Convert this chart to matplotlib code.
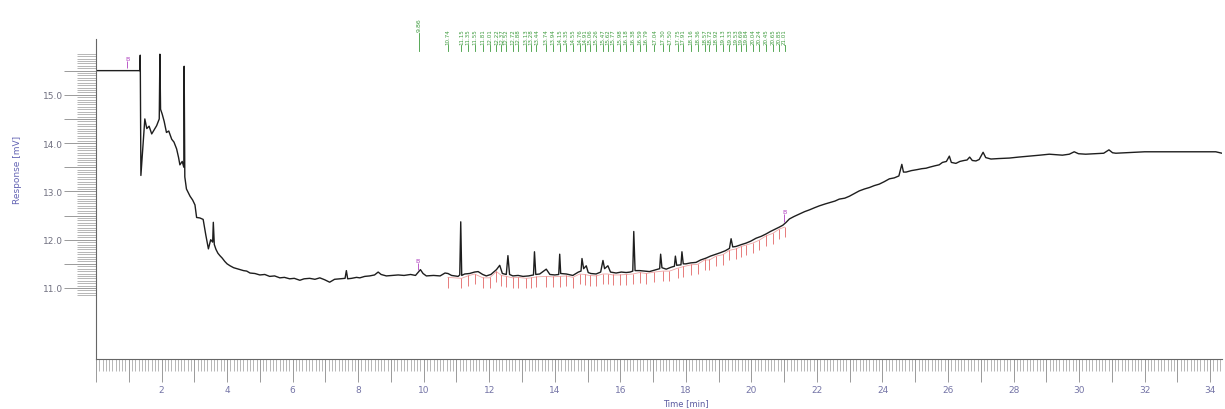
import matplotlib
matplotlib.use("Agg")
import matplotlib.pyplot as plt
import numpy as np

# chromatogram trace (time in min, response in mV)
time_min = [
    0.00, 1.34, 1.35, 1.37, 1.49, 1.55, 1.62, 1.70, 1.78, 1.85, 1.93, 1.95, 1.97,
    2.02, 2.08, 2.15, 2.22, 2.31, 2.38, 2.46, 2.52, 2.56, 2.63, 2.68, 2.69, 2.71,
    2.76, 2.87, 2.95, 3.02, 3.07, 3.17, 3.27, 3.35, 3.43, 3.50, 3.56, 3.58, 3.61,
    3.66, 3.72, 3.78, 3.85, 3.93, 4.00, 4.09, 4.20, 4.30, 4.39, 4.50, 4.60, 4.70,
    4.85, 5.00, 5.15, 5.30, 5.45, 5.61, 5.75, 5.91, 6.05, 6.22, 6.35, 6.52, 6.68,
    6.83, 6.98, 7.13, 7.28, 7.44, 7.60, 7.64, 7.68, 7.80, 7.95, 8.05, 8.20, 8.35,
    8.50, 8.61, 8.70, 8.86, 9.05, 9.22, 9.40, 9.60, 9.75, 9.90, 9.98, 10.08, 10.30,
    10.50, 10.65, 10.74, 10.85, 11.05, 11.10, 11.13, 11.16, 11.25, 11.40, 11.55,
    11.66, 11.80, 11.91, 12.05, 12.22, 12.32, 12.40, 12.52, 12.57, 12.62, 12.72,
    12.88, 13.03, 13.20, 13.35, 13.38, 13.42, 13.54, 13.74, 13.85, 14.00, 14.12,
    14.15, 14.18, 14.35, 14.55, 14.72, 14.80, 14.83, 14.88, 14.96, 15.02, 15.10,
    15.26, 15.40, 15.47, 15.52, 15.62, 15.70, 15.87, 16.03, 16.18, 16.30, 16.38,
    16.41, 16.45, 16.59, 16.75, 16.89, 17.05, 17.20, 17.23, 17.27, 17.40, 17.55,
    17.65, 17.68, 17.72, 17.85, 17.88, 17.92, 18.00, 18.15, 18.31, 18.45, 18.62,
    18.75, 18.92, 19.05, 19.20, 19.33, 19.38, 19.43, 19.53, 19.70, 19.84, 19.98,
    20.14, 20.30, 20.45, 20.58, 20.70, 20.85, 20.96, 21.06, 21.16, 21.30, 21.46,
    21.62, 21.78, 21.92, 22.07, 22.25, 22.40, 22.55, 22.68, 22.85, 22.99, 23.15,
    23.29, 23.45, 23.60, 23.75, 23.90, 24.05, 24.21, 24.36, 24.50, 24.59, 24.64,
    24.72, 24.88, 25.05, 25.20, 25.33, 25.43, 25.60, 25.73, 25.83, 25.95, 26.04,
    26.10, 26.24, 26.36, 26.49, 26.58, 26.66, 26.74, 26.85, 26.95, 27.07, 27.15,
    27.31, 27.55, 27.87, 28.15, 28.48, 28.80, 29.09, 29.30, 29.49, 29.70, 29.85,
    29.98, 30.20, 30.50, 30.75, 30.91, 31.02, 31.12, 31.40, 31.63, 32.00, 32.34,
    32.75, 33.15, 33.60, 34.17, 34.36,
]
response_mv = [
    15.50, 15.50, 15.82, 13.33, 14.50, 14.30, 14.35, 14.19, 14.28, 14.36, 14.50, 15.84, 14.70,
    14.60, 14.45, 14.22, 14.25, 14.08, 14.02, 13.88, 13.70, 13.55, 13.62, 13.50, 15.59, 13.30,
    13.05, 12.90, 12.82, 12.72, 12.46, 12.45, 12.42, 12.10, 11.81, 12.00, 11.95, 12.36, 11.90,
    11.80, 11.72, 11.67, 11.62, 11.55, 11.50, 11.46, 11.42, 11.40, 11.38, 11.36, 11.35, 11.31,
    11.30, 11.27, 11.28, 11.24, 11.25, 11.21, 11.22, 11.19, 11.20, 11.16, 11.19, 11.20, 11.18,
    11.21, 11.17, 11.12, 11.18, 11.19, 11.20, 11.36, 11.19, 11.20, 11.22, 11.21, 11.24, 11.25,
    11.27, 11.33, 11.28, 11.25, 11.26, 11.27, 11.26, 11.28, 11.26, 11.38, 11.30, 11.25, 11.26,
    11.25, 11.31, 11.30, 11.26, 11.24, 11.27, 12.37, 11.26, 11.29, 11.30, 11.33,
    11.34, 11.28, 11.25, 11.28, 11.38, 11.47, 11.30, 11.28, 11.67, 11.28, 11.25,
    11.26, 11.24, 11.25, 11.27, 11.75, 11.28, 11.29, 11.39, 11.28, 11.27, 11.28,
    11.70, 11.30, 11.29, 11.26, 11.33, 11.35, 11.61, 11.40, 11.46, 11.32, 11.30,
    11.29, 11.33, 11.57, 11.40, 11.46, 11.33, 11.31, 11.33, 11.32, 11.33, 11.35,
    12.17, 11.36, 11.36, 11.35, 11.34, 11.37, 11.40, 11.70, 11.42, 11.39, 11.43,
    11.45, 11.66, 11.47, 11.48, 11.75, 11.50, 11.50, 11.52, 11.53, 11.58, 11.62,
    11.66, 11.70, 11.73, 11.77, 11.82, 12.02, 11.85, 11.86, 11.90, 11.93, 11.97,
    12.03, 12.07, 12.12, 12.17, 12.21, 12.26, 12.30, 12.36, 12.43, 12.48, 12.53,
    12.58, 12.62, 12.66, 12.70, 12.74, 12.77, 12.80, 12.84, 12.86, 12.90, 12.96,
    13.01, 13.05, 13.08, 13.12, 13.15, 13.20, 13.26, 13.28, 13.32, 13.56, 13.40,
    13.40, 13.43, 13.45, 13.47, 13.48, 13.50, 13.53, 13.55, 13.60, 13.62, 13.73,
    13.60, 13.58, 13.62, 13.64, 13.65, 13.71, 13.64, 13.63, 13.66, 13.81, 13.70,
    13.67, 13.68, 13.69, 13.71, 13.73, 13.75, 13.77, 13.76, 13.75, 13.77, 13.82,
    13.78, 13.77, 13.78, 13.79, 13.86, 13.80, 13.79, 13.80, 13.81, 13.82, 13.82,
    13.82, 13.82, 13.82, 13.82, 13.79,
]

# integrated peaks (retention times, labelled in green on top)
first_peak = 9.86
peak_times = [
    10.74, 11.15, 11.35, 11.55, 11.81, 12.01, 12.22, 12.37, 12.52, 12.72, 12.88,
    13.13, 13.28, 13.44, 13.74, 13.94, 14.15, 14.35, 14.55, 14.76, 14.91, 15.06,
    15.26, 15.47, 15.62, 15.77, 15.98, 16.18, 16.38, 16.59, 16.79, 17.04, 17.30,
    17.50, 17.75, 17.91, 18.16, 18.36, 18.57, 18.72, 18.92, 19.13, 19.33, 19.53,
    19.69, 19.84, 20.04, 20.24, 20.45, 20.65, 20.85, 21.01,
]

# integration event markers
event_times = [0.95, 9.82, 21.00]

x_major = np.arange(0, 35, 1)
x_labels = [str(v) if v % 2 == 0 and v > 0 else "" for v in x_major]
y_major = np.arange(11.0, 15.51, 0.5)
y_labels = ["%.1f" % v if v % 1 == 0 else "" for v in y_major]

fig = plt.figure(figsize=(12.25, 4.10), dpi=100)
ax = fig.add_axes([96 / 1225, 50 / 410, 1 - 96 / 1225 - 3 / 1225, 320 / 410])

t = np.array(time_min)
r = np.array(response_mv)
ax.plot(t, r, color="#1e1e1e", lw=1.0)

# red baseline drops under integrated peaks (lowest trace value near each peak)
base = np.array([r[(t > pt - 0.12) & (t < pt + 0.12)].min() if np.any((t > pt - 0.12) & (t < pt + 0.12))
                 else np.interp(pt, t, r) for pt in peak_times])
ax.vlines(peak_times, base - 0.25, base - 0.03, color="#e05a5a", lw=0.7, alpha=0.8)
ax.plot(peak_times, base - 0.04, color="#e06a6a", lw=0.6, alpha=0.6)

# event markers (purple)
ev_y = np.interp(event_times, t, r)
for et, ey in zip(event_times, ev_y):
    ax.vlines(et, ey + 0.05, ey + 0.2, color="#b040c0", lw=0.6)
    ax.text(et, ey + 0.2, "B", color="#b040c0", fontsize=4.5, ha="center", va="bottom")

# retention time labels above the plot
trans = matplotlib.transforms.blended_transform_factory(ax.transData, fig.transFigure)
green = "#3c9a3c"
for pt in peak_times:
    ax.text(pt, 1 - 45 / 410, "%.2f" % pt, rotation=90, fontsize=4, color=green,
            ha="center", va="bottom", transform=trans, clip_on=False)
    ax.plot([pt, pt], [1 - 52 / 410, 1 - 46 / 410], color=green, lw=0.6,
            transform=trans, clip_on=False)
ax.text(first_peak, 1 - 32 / 410, "%.2f" % first_peak, rotation=90, fontsize=4.5,
        color=green, ha="center", va="bottom", transform=trans, clip_on=False)
ax.plot([first_peak, first_peak], [1 - 52 / 410, 1 - 34 / 410], color=green, lw=0.6,
        transform=trans, clip_on=False)

ax.set_xlim(0, 34.36)
ax.set_ylim(9.53, 16.155)

for s in ["top", "right"]:
    ax.spines[s].set_visible(False)
for s in ["bottom", "left"]:
    ax.spines[s].set_color("#666666")
    ax.spines[s].set_linewidth(0.8)

ax.set_xticks(x_major)
ax.set_xticklabels(x_labels)
ax.set_xticks(np.arange(0, 34.4, 0.1), minor=True)
ax.set_yticks(y_major)
ax.set_yticklabels(y_labels)
ax.set_yticks(np.arange(10.85, 15.86, 0.05), minor=True)

ax.tick_params(axis="x", which="major", length=16.5, width=0.6, color="#8a8a8a",
               labelsize=6.5, labelcolor="#7474a6", pad=2)
ax.tick_params(axis="x", which="minor", length=8.5, width=0.5, color="#9a9a9a")
ax.tick_params(axis="y", which="major", length=23, width=0.6, color="#8a8a8a",
               labelsize=6.5, labelcolor="#707080", pad=1)
ax.tick_params(axis="y", which="minor", length=13.5, width=0.5, color="#9a9a9a")

fig.text(18 / 1225, 1 - 170 / 410, "Response [mV]", rotation=90, fontsize=6.5,
         color="#6464b4", ha="center", va="center")
fig.text(686 / 1225, 1 - 404 / 410, "Time [min]", fontsize=6, color="#5a5aa0",
         ha="center", va="center")

fig.savefig("out.png", dpi=100)
